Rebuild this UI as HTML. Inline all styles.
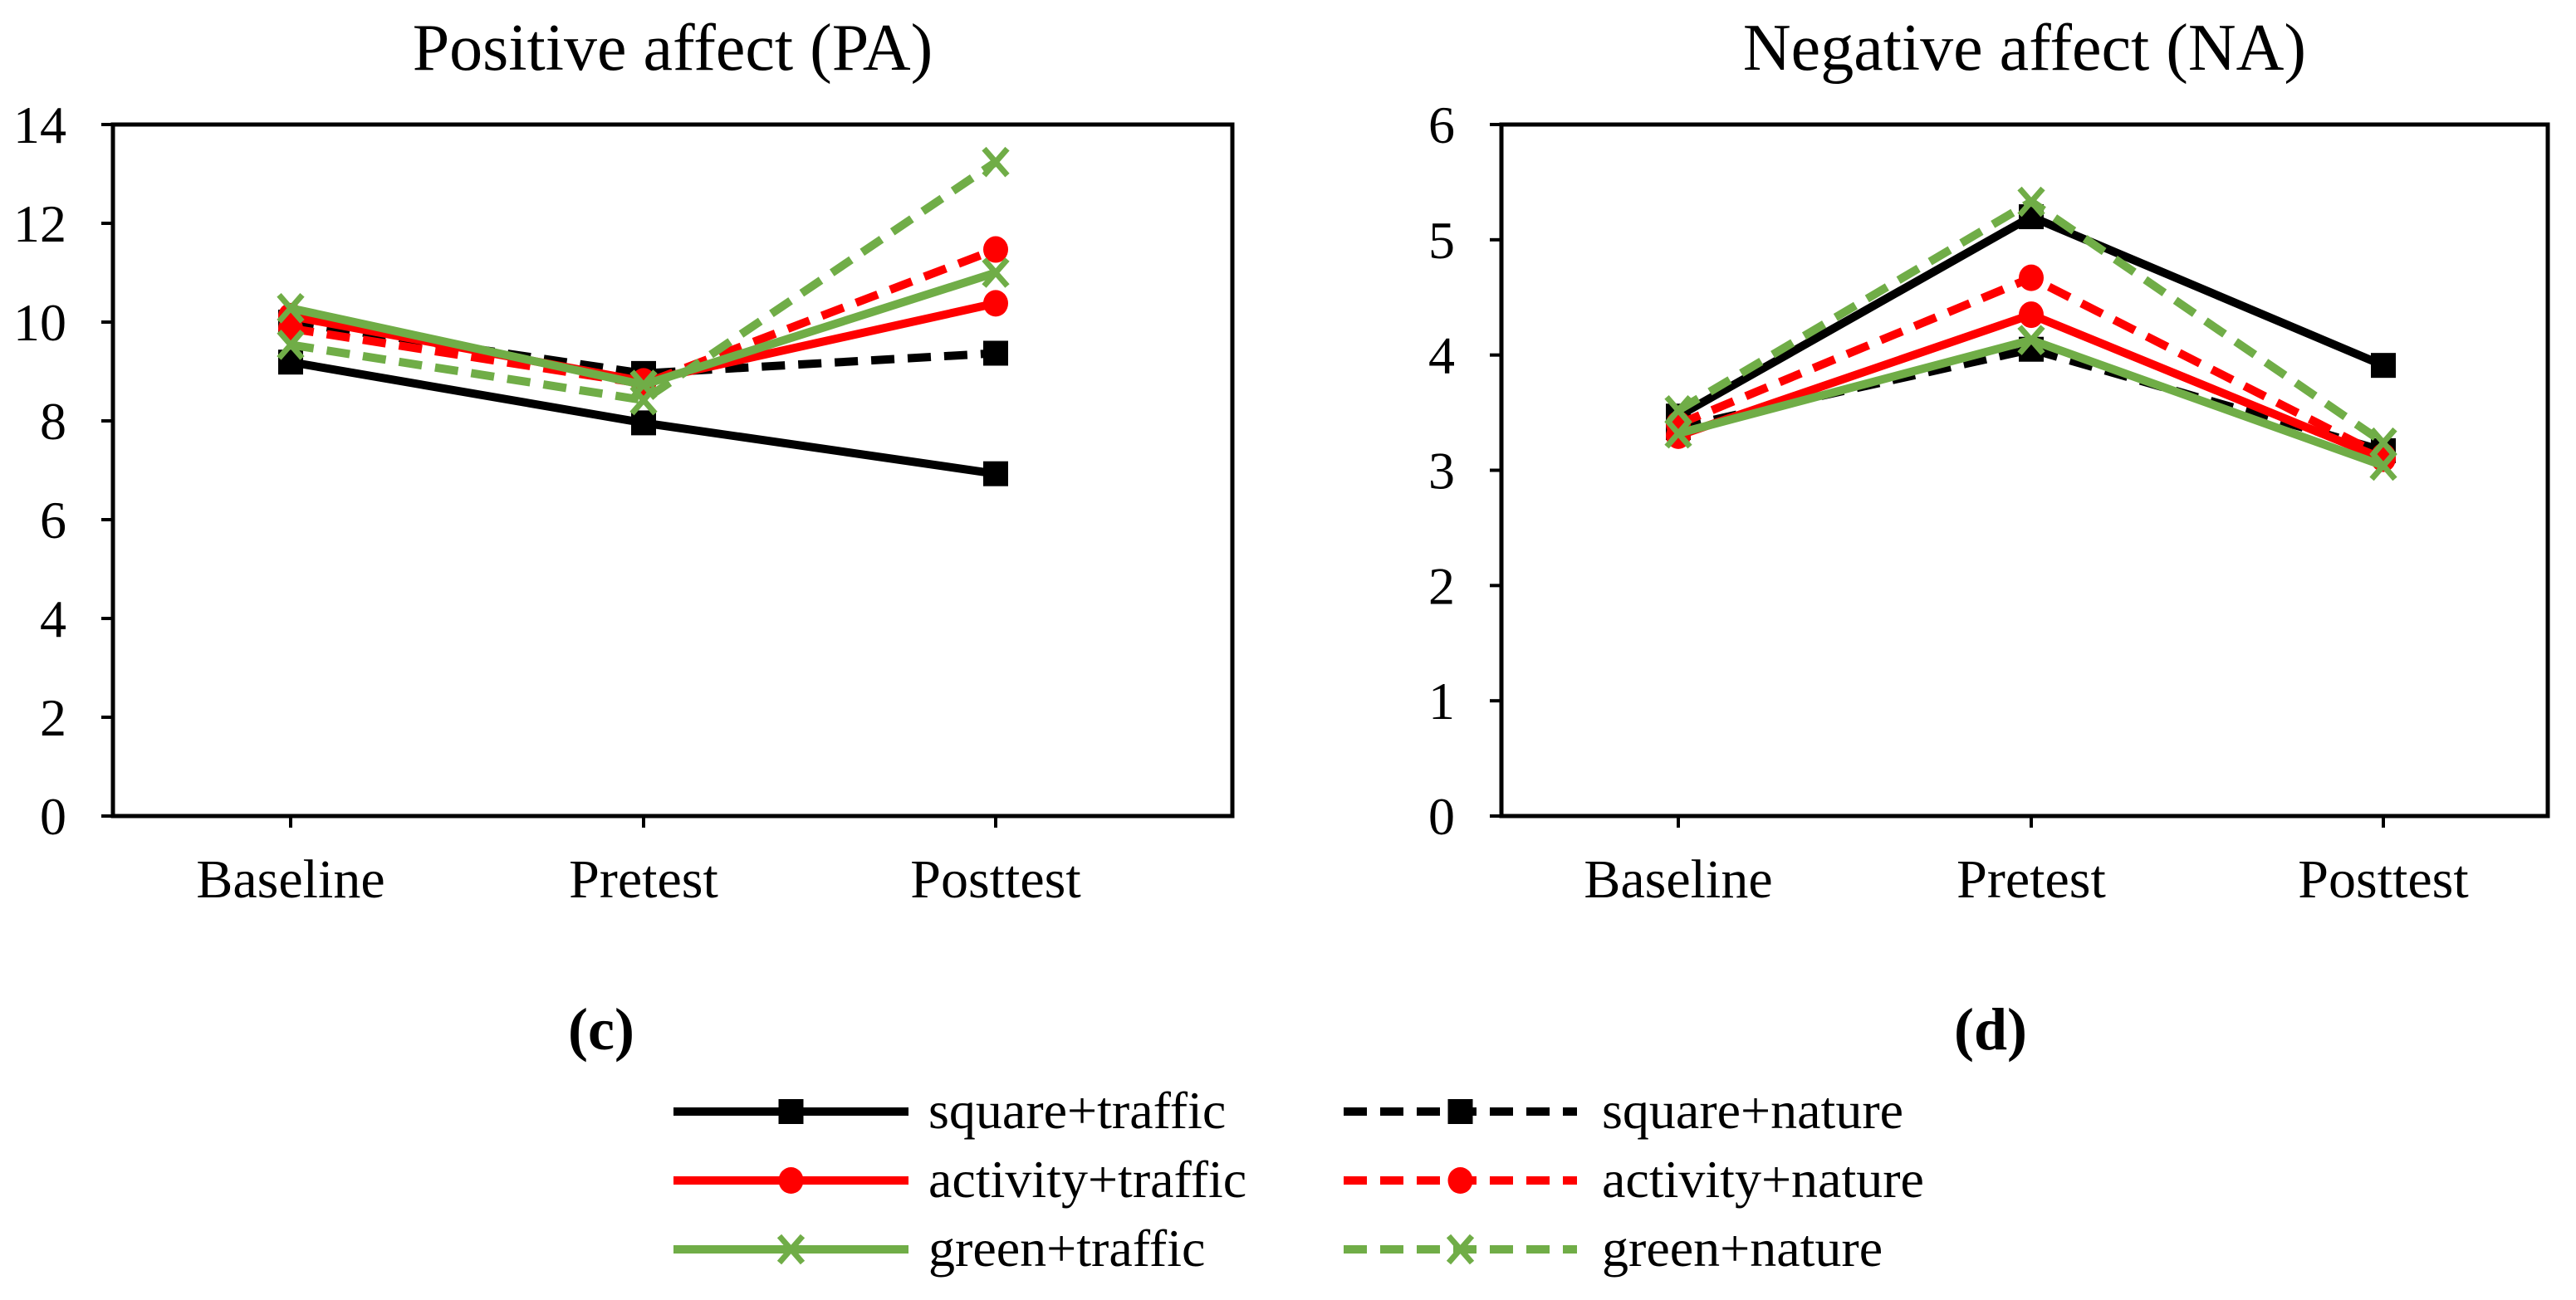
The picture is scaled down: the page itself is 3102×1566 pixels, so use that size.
<!DOCTYPE html>
<html><head><meta charset="utf-8"><style>
html,body{margin:0;padding:0;background:#fff;}
svg, svg text{font-family:"Liberation Serif","Times New Roman","DejaVu Serif",serif;}
</style></head><body>
<svg id="fig" width="3102" height="1561" viewBox="0 0 3102 1561" xmlns="http://www.w3.org/2000/svg"></svg>
<script>
const categories = ["Baseline","Pretest","Posttest"];
const seriesNames = ["square+traffic","square+nature","activity+traffic","activity+nature","green+traffic","green+nature"];
const paSquareTraffic = [9.19, 7.96, 6.93];
const paSquareNature = [10.0, 8.96, 9.37];
const paActivityTraffic = [10.12, 8.8, 10.38];
const paActivityNature = [9.87, 8.75, 11.47];
const paGreenTraffic = [10.28, 8.73, 11.0];
const paGreenNature = [9.54, 8.42, 13.24];
const naSquareTraffic = [3.47, 5.2, 3.91];
const naSquareNature = [3.37, 4.05, 3.17];
const naActivityTraffic = [3.3, 4.35, 3.1];
const naActivityNature = [3.4, 4.67, 3.12];
const naGreenTraffic = [3.32, 4.13, 3.04];
const naGreenNature = [3.52, 5.33, 3.24];
const paTicks = [0,2,4,6,8,10,12,14];
const naTicks = [0,1,2,3,4,5,6];

const NS="http://www.w3.org/2000/svg";
const FONT='"Liberation Serif","Times New Roman",serif';
const svg=document.getElementById('fig');
function mk(tag,attrs,parent){const e=document.createElementNS(NS,tag);for(const k in attrs)e.setAttribute(k,attrs[k]);if(tag==='text')e.setAttribute('font-family',FONT);(parent||svg).appendChild(e);return e;}
const DASH="28 16";
const styles=[
 {color:"#000",dash:null,marker:"square"},
 {color:"#000",dash:DASH,marker:"square"},
 {color:"#ff0000",dash:null,marker:"circle"},
 {color:"#ff0000",dash:DASH,marker:"circle"},
 {color:"#70ad47",dash:null,marker:"x"},
 {color:"#70ad47",dash:DASH,marker:"x"}
];
function marker(g,type,x,y,color){
  let m;
  if(type==="square"){m=mk('rect',{x:x-15,y:y-15,width:30,height:30,fill:color},g);}
  else if(type==="circle"){m=mk('ellipse',{cx:x,cy:y,rx:15,ry:16,fill:color},g);}
  else {m=mk('path',{d:`M${x-14} ${y-16}L${x+14} ${y+16}M${x+14} ${y-16}L${x-14} ${y+16}`,stroke:color,'stroke-width':7,fill:'none'},g);}
  
  
}
function chart(opt){
  const g=mk('g',{});
  
  
  const {L,R,T,B,max,ticks,cx}=opt;
  const yS=v=>B-(v/max)*(B-T);
  const xS=i=>cx[i];
  const t=mk('text',{x:(L+R)/2,y:84,'font-size':80,'text-anchor':'middle'},g);
  t.textContent=opt.title;
  
  
  const frame=mk('rect',{x:L,y:T,width:R-L,height:B-T,fill:'none',stroke:'#000','stroke-width':5},g);
  
  
  ticks.forEach(v=>{
    const tk=mk('line',{x1:L-14,x2:L,y1:yS(v),y2:yS(v),stroke:'#000','stroke-width':4},g);
    
    
    const tl=mk('text',{x:L-56,y:yS(v)+22,'font-size':64,'text-anchor':'end'},g);
    tl.textContent=v;
    
    
  });
  categories.forEach((c,i)=>{
    const tk=mk('line',{x1:xS(i),x2:xS(i),y1:B,y2:B+14,stroke:'#000','stroke-width':4},g);
    
    
    const tl=mk('text',{x:xS(i),y:B+98,'font-size':66,'text-anchor':'middle'},g);
    tl.textContent=c;
    
    
  });
  opt.data.forEach((d,si)=>{
    const st=styles[si];
    const sg=mk('g',{},g);
    
    
    const pts=d.map((v,i)=>xS(i)+','+yS(v)).join(' ');
    const pl=mk('polyline',{points:pts,fill:'none',stroke:st.color,'stroke-width':10,'stroke-linejoin':'round'},sg);
    if(st.dash)pl.setAttribute('stroke-dasharray',st.dash);
    
    
    d.forEach((v,i)=>marker(sg,st.marker,xS(i),yS(v),st.color));
  });
  const lab=mk('text',{x:opt.labX,y:1264,'font-size':72,'font-weight':'bold','text-anchor':'middle'},g);
  lab.textContent=opt.label;
  
  
}
chart({name:'pa-chart',title:'Positive affect (PA)',label:'(c)',labX:724,L:136,R:1484,T:150,B:983,max:14,ticks:paTicks,cx:[350,775,1199],
  data:[paSquareTraffic,paSquareNature,paActivityTraffic,paActivityNature,paGreenTraffic,paGreenNature]});
chart({name:'na-chart',title:'Negative affect (NA)',label:'(d)',labX:2397,L:1808,R:3068,T:150,B:983,max:6,ticks:naTicks,cx:[2021,2446,2870],
  data:[naSquareTraffic,naSquareNature,naActivityTraffic,naActivityNature,naGreenTraffic,naGreenNature]});

const lg=mk('g',{});


const rowsY=[1339,1422,1505];
seriesNames.forEach((n,i)=>{
  const col=i%2, row=Math.floor(i/2);
  const st=styles[i];
  const x0=col?1618:811, x1=col?1899:1094, tx=col?1929:1118, y=rowsY[row];
  const eg=mk('g',{},lg);
  
  
  const ln=mk('line',{x1:x0,x2:x1,y1:y,y2:y,stroke:st.color,'stroke-width':10},eg);
  if(st.dash)ln.setAttribute('stroke-dasharray',DASH);
  
  
  marker(eg,st.marker,(x0+x1)/2,y,st.color);
  const t=mk('text',{x:tx,y:y+20,'font-size':64},eg);
  t.textContent=n;
  
  
});
</script>
</body></html>
